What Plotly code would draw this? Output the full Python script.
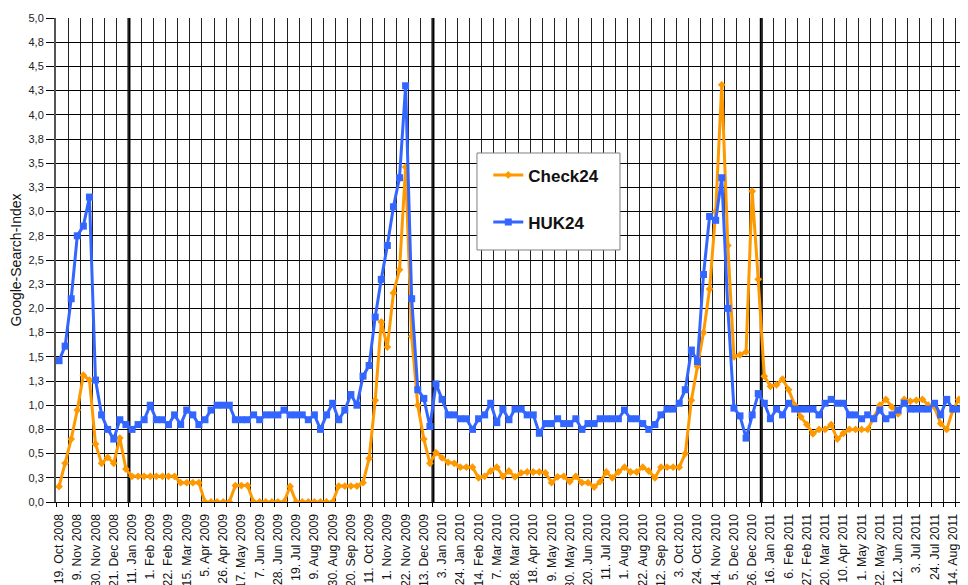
import plotly.graph_objects as go

# Weekly index values (week 0 = 19. Oct 2008)
check24 = [0.16, 0.40, 0.65, 0.95, 1.31, 1.26, 0.60, 0.40, 0.46, 0.40,
           0.66, 0.34, 0.265, 0.265, 0.265, 0.265, 0.265, 0.265, 0.265, 0.265,
           0.20, 0.20, 0.20, 0.20, 0.0, 0.0, 0.0, 0.0, 0.0, 0.17,
           0.17, 0.17, 0.0, 0.0, 0.0, 0.0, 0.0, 0.0, 0.16, 0.0,
           0.0, 0.0, 0.0, 0.0, 0.0, 0.0, 0.165, 0.165, 0.165, 0.165,
           0.20, 0.45, 1.05, 1.86, 1.60, 2.16, 2.40, 3.46, 1.71, 1.00,
           0.65, 0.40, 0.51, 0.455, 0.41, 0.40, 0.36, 0.36, 0.36, 0.25,
           0.265, 0.32, 0.36, 0.265, 0.32, 0.26, 0.30, 0.31, 0.31, 0.31,
           0.30, 0.20, 0.26, 0.265, 0.21, 0.265, 0.20, 0.20, 0.155, 0.21,
           0.31, 0.25, 0.31, 0.36, 0.31, 0.31, 0.36, 0.32, 0.25, 0.36,
           0.36, 0.36, 0.36, 0.50, 1.05, 1.40, 1.75, 2.20, 3.00, 4.31,
           2.65, 1.50, 1.52, 1.55, 3.21, 2.30, 1.30, 1.195, 1.21, 1.27,
           1.16, 1.00, 0.88, 0.80, 0.705, 0.75, 0.75, 0.80, 0.65, 0.71,
           0.75, 0.75, 0.75, 0.75, 0.87, 1.00, 1.06, 0.98, 0.91, 1.06,
           1.04, 1.05, 1.06, 1.00, 0.98, 0.81, 0.75, 0.95, 1.06, 0.95]

huk24 = [1.46, 1.61, 2.10, 2.75, 2.85, 3.15, 1.26, 0.90, 0.75, 0.65,
         0.85, 0.80, 0.75, 0.80, 0.85, 1.00, 0.85, 0.85, 0.80, 0.90,
         0.80, 0.95, 0.90, 0.80, 0.85, 0.95, 1.00, 1.00, 1.00, 0.85,
         0.85, 0.85, 0.90, 0.85, 0.90, 0.90, 0.90, 0.95, 0.90, 0.90,
         0.90, 0.85, 0.90, 0.75, 0.90, 1.02, 0.85, 0.95, 1.11, 1.00,
         1.30, 1.41, 1.91, 2.30, 2.65, 3.05, 3.35, 4.30, 2.10, 1.16,
         1.07, 0.78, 1.22, 1.06, 0.90, 0.90, 0.86, 0.86, 0.75, 0.86,
         0.90, 1.02, 0.82, 0.96, 0.85, 0.96, 0.96, 0.90, 0.90, 0.71,
         0.81, 0.81, 0.86, 0.81, 0.81, 0.86, 0.75, 0.81, 0.81, 0.86,
         0.86, 0.86, 0.86, 0.95, 0.86, 0.86, 0.81, 0.75, 0.80, 0.90,
         0.96, 0.96, 1.02, 1.16, 1.57, 1.45, 2.35, 2.95, 2.91, 3.35,
         2.00, 0.97, 0.89, 0.66, 0.90, 1.12, 1.02, 0.86, 0.96, 0.90,
         1.02, 0.96, 0.96, 0.96, 0.96, 0.90, 1.02, 1.06, 1.02, 1.02,
         0.90, 0.90, 0.86, 0.90, 0.86, 0.95, 0.86, 0.90, 0.95, 1.02,
         0.96, 0.96, 0.96, 0.96, 1.02, 0.90, 1.06, 0.96, 0.96, 1.06]

# x tick labels, every 3rd week
x_labels = ["19. Oct 2008", "9. Nov 2008", "30. Nov 2008", "21. Dec 2008",
            "11. Jan 2009", "1. Feb 2009", "22. Feb 2009", "15. Mar 2009",
            "5. Apr 2009", "26. Apr 2009", "17. May 2009", "7. Jun 2009",
            "28. Jun 2009", "19. Jul 2009", "9. Aug 2009", "30. Aug 2009",
            "20. Sep 2009", "11. Oct 2009", "1. Nov 2009", "22. Nov 2009",
            "13. Dec 2009", "3. Jan 2010", "24. Jan 2010", "14. Feb 2010",
            "7. Mar 2010", "28. Mar 2010", "18. Apr 2010", "9. May 2010",
            "30. May 2010", "20. Jun 2010", "11. Jul 2010", "1. Aug 2010",
            "22. Aug 2010", "12. Sep 2010", "3. Oct 2010", "24. Oct 2010",
            "14. Nov 2010", "5. Dec 2010", "26. Dec 2010", "16. Jan 2011",
            "6. Feb 2011", "27. Feb 2011", "20. Mar 2011", "10. Apr 2011",
            "1. May 2011", "22. May 2011", "12. Jun 2011", "3. Jul 2011",
            "24. Jul 2011", "14. Aug 2011"]

y_tickvals = [0, 0.25, 0.5, 0.75, 1.0, 1.25, 1.5, 1.75, 2.0, 2.25, 2.5,
              2.75, 3.0, 3.25, 3.5, 3.75, 4.0, 4.25, 4.5, 4.75, 5.0]
y_labels = ["0,0", "0,3", "0,5", "0,8", "1,0", "1,3", "1,5", "1,8", "2,0",
            "2,3", "2,5", "2,8", "3,0", "3,3", "3,5", "3,8", "4,0", "4,3",
            "4,5", "4,8", "5,0"]

# year separators (between weeks)
year_lines = [11.5, 61.5, 115.5]

weeks = list(range(len(check24)))
label_pos = list(range(0, 3 * len(x_labels), 3))

ORANGE = "#FF9900"
BLUE = "#3366FF"
FONT = "Liberation Sans, Arial, sans-serif"

fig = go.Figure()
fig.add_trace(go.Scatter(
    x=weeks, y=check24, name="Check24", mode="lines+markers",
    line=dict(color=ORANGE, width=3),
    marker=dict(symbol="diamond", size=6, color=ORANGE),
    legendgroup="a"))
fig.add_trace(go.Scatter(
    x=weeks, y=huk24, name="HUK24", mode="lines+markers",
    line=dict(color=BLUE, width=3),
    marker=dict(symbol="square", size=7, color=BLUE),
    legendgroup="b"))

for xl in year_lines:
    fig.add_shape(type="line", x0=xl, x1=xl, y0=0, y1=5, xref="x", yref="y",
                  line=dict(color="black", width=3), layer="below")

# legend box
fig.add_shape(type="rect", xref="paper", yref="paper",
              x0=0.4616, x1=0.6184, y0=0.5207, y1=0.7211,
              line=dict(color="#808080", width=1), fillcolor="white",
              layer="above")

fig.update_layout(
    width=960, height=577,
    margin=dict(l=48, r=0, t=10, b=83, autoexpand=False),
    paper_bgcolor="white", plot_bgcolor="white",
    font=dict(family=FONT, color="#222222"),
    hovermode=False,
    legend=dict(x=0.474, y=0.712, xanchor="left", yanchor="top",
                bgcolor="rgba(0,0,0,0)", borderwidth=0,
                font=dict(size=17, color="#111111", family=FONT, weight="bold"),
                tracegroupgap=22),
    xaxis=dict(
        range=[-0.5, 149.5], showgrid=False, zeroline=False, automargin=False,
        tickmode="array", tickvals=label_pos, ticktext=x_labels,
        tickangle=-90, ticks="", ticklabelstandoff=6,
        tickfont=dict(size=12.3, color="#111111"),
        showline=True, linecolor="black", linewidth=1,
        minor=dict(tick0=-0.5, dtick=2, showgrid=True, gridcolor="#222222",
                   gridwidth=1, ticks="outside", ticklen=4,
                   tickcolor="black"),
    ),
    yaxis=dict(
        range=[0, 5], tickmode="array", tickvals=y_tickvals, automargin=False,
        ticktext=y_labels, showgrid=True, gridcolor="black", gridwidth=1,
        zeroline=False, ticks="outside", ticklen=8, tickcolor="black",
        tickfont=dict(size=11, color="#222222"),
        showline=True, linecolor="#555555", linewidth=2,
        title=dict(text="Google-Search-Index", standoff=5,
                   font=dict(size=14, color="#111111")),
    ),
)

fig.write_html("out.html")
